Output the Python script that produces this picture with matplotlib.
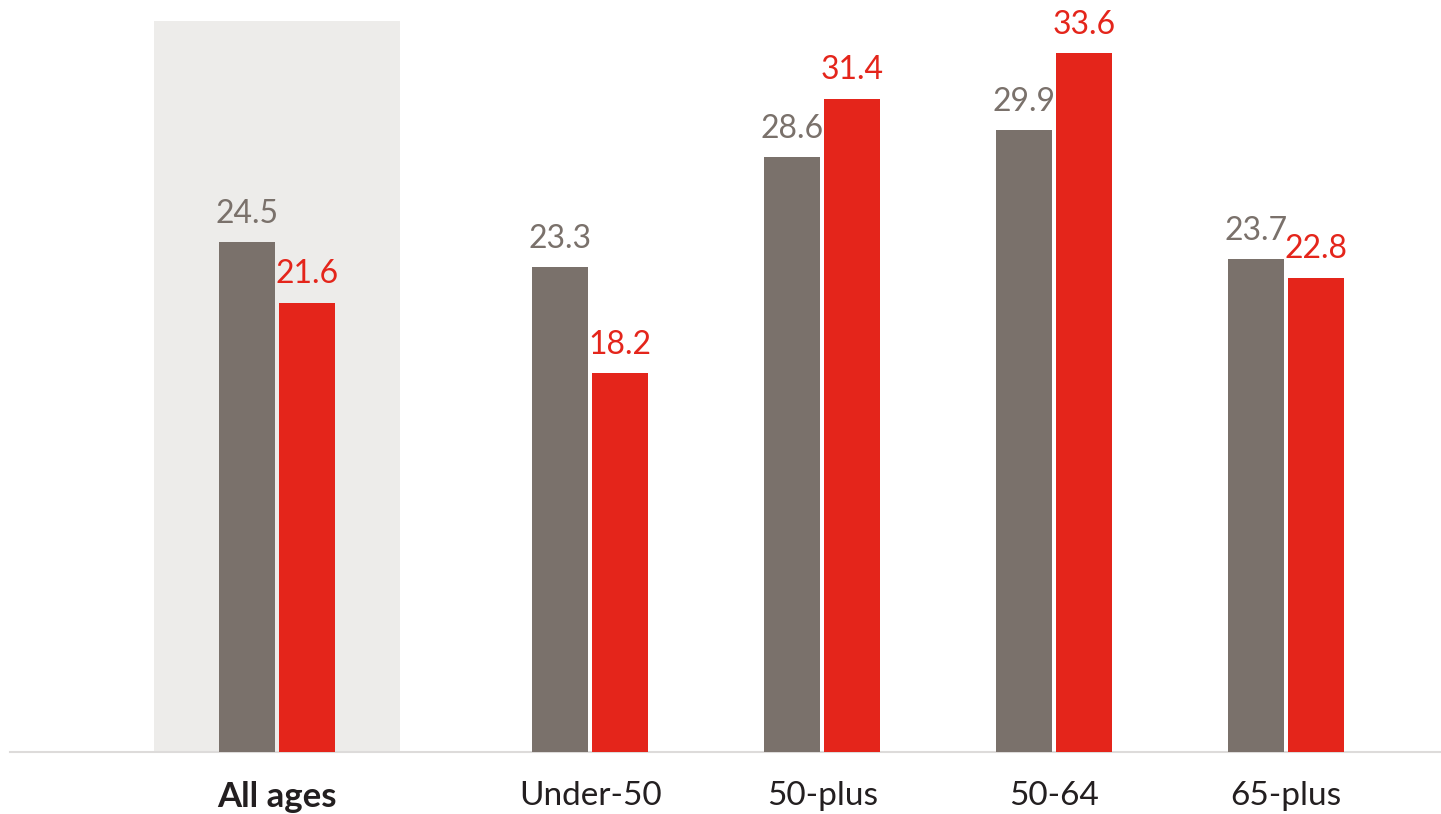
import matplotlib
matplotlib.use('Agg')
import matplotlib.pyplot as plt
import numpy as np

plt.rcParams['font.family'] = ['Lato', 'DejaVu Sans']

# Data
groups = ['All ages', 'Under-50', '50-plus', '50-64', '65-plus']
series_a = [24.5, 23.3, 28.6, 29.9, 23.7]
series_b = [21.6, 18.2, 31.4, 33.6, 22.8]

grey = '#7A716B'
red = '#E4251B'

# group centres: "All ages" is set apart from the rest
pos = np.array([0, 1.35, 2.35, 3.35, 4.35])
w = 0.2414
off = w / 2 + 0.0086

fig = plt.figure(figsize=(14.41, 8.14), dpi=100)
ax = fig.add_axes([10 / 1441, 62 / 814, 1 - 10 / 1441, 752 / 814])

# shaded panel behind the total
ax.axvspan(-0.53, 0.53, ymin=0, ymax=1 - 21 / 752, color='#EDECEA', lw=0, zorder=0)

b1 = ax.bar(pos - off, series_a, width=w, color=grey, zorder=2)
b2 = ax.bar(pos + off, series_b, width=w, color=red, zorder=2)

for bars, vals, c in [(b1, series_a, grey), (b2, series_b, red)]:
    for r, v in zip(bars, vals):
        ax.annotate(f'{v:.1f}', (r.get_x() + r.get_width() / 2, v),
                    xytext=(0, 14), textcoords='offset points',
                    ha='center', va='baseline', fontsize=23, color=c)

ax.set_xlim(-1.151, 5.017)
ax.set_ylim(0, 752 / 20.8)

ax.set_xticks(pos)
ax.set_xticklabels(groups, fontsize=24, color='#231F20')
ax.get_xticklabels()[0].set_fontweight('bold')
ax.get_xticklabels()[0].set_fontsize(25)
ax.tick_params(axis='x', length=0, pad=21)
ax.set_yticks([])

for s in ['top', 'right', 'left']:
    ax.spines[s].set_visible(False)
ax.spines['bottom'].set_color('#DDDBDA')
ax.spines['bottom'].set_linewidth(1.5)
ax.spines['bottom'].set_zorder(1)
ax.set_facecolor('none')

fig.savefig('out.png', dpi=100)
